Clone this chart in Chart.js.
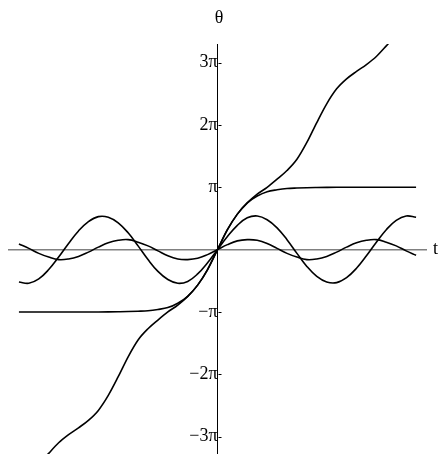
<!DOCTYPE html>
<html>
<head>
<meta charset="utf-8">
<title>Pendulum θ(t)</title>
<script src="https://cdn.jsdelivr.net/npm/chart.js@4.4.1/dist/chart.umd.min.js"></script>
<style>
  html, body { margin: 0; padding: 0; background: #fff; }
  #wrap { width: 438px; height: 454px; }
</style>
</head>
<body>
<div id="wrap"><canvas id="chart" width="438" height="454"></canvas></div>
<script>
/* ── Data (θ in multiples of π) ─────────────────────────── */
const tValues = [
  -10, -9.5, -9, -8.5, -8, -7.5, -7, -6.5, -6, -5.5, -5, -4.5, -4, -3.5, -3, -2.5, -2, -1.5, -1, -0.5,
  0, 0.5, 1, 1.5, 2, 2.5, 3, 3.5, 4, 4.5, 5, 5.5, 6, 6.5, 7, 7.5, 8, 8.5, 9, 9.5, 10
];

const thetaSmall = [
  0.09, 0.02, -0.06, -0.12, -0.16, -0.15, -0.11, -0.04, 0.04, 0.11, 0.15, 0.16, 0.12, 0.06, -0.02, -0.10, -0.15, -0.16, -0.14, -0.08,
  0, 0.08, 0.14, 0.16, 0.15, 0.10, 0.02, -0.06, -0.12, -0.16, -0.15, -0.11, -0.04, 0.04, 0.11, 0.15, 0.16, 0.12, 0.06, -0.02, -0.09
];

const thetaLarge = [
  -0.52, -0.54, -0.47, -0.32, -0.12, 0.10, 0.30, 0.45, 0.53, 0.52, 0.43, 0.27, 0.06, -0.16, -0.35, -0.48, -0.54, -0.51, -0.39, -0.21,
  0, 0.21, 0.39, 0.51, 0.54, 0.48, 0.35, 0.16, -0.06, -0.27, -0.43, -0.52, -0.53, -0.45, -0.30, -0.10, 0.12, 0.32, 0.47, 0.54, 0.52
];

const thetaSeparatrix = [
  -1, -1, -1, -1, -1, -1, -1, -1, -1, -0.999, -0.997, -0.994, -0.988, -0.98, -0.96, -0.93, -0.86, -0.75, -0.57, -0.32,
  0, 0.32, 0.57, 0.75, 0.86, 0.93, 0.96, 0.98, 0.988, 0.994, 0.997, 0.999, 1, 1, 1, 1, 1, 1, 1, 1, 1
];

const thetaRotating = [
  -3.90, -3.65, -3.45, -3.27, -3.10, -2.97, -2.86, -2.74, -2.58, -2.34, -2.04, -1.72, -1.45, -1.27, -1.13, -1.00, -0.89, -0.75, -0.57, -0.32,
  0, 0.32, 0.57, 0.75, 0.89, 1.00, 1.13, 1.27, 1.45, 1.72, 2.04, 2.34, 2.58, 2.74, 2.86, 2.97, 3.10, 3.27, 3.45, 3.65, 3.90
];

const thetaTicks = [-3, -2, -1, 1, 2, 3];
const thetaTickLabels = ['\u22123\u03c0', '\u22122\u03c0', '\u2212\u03c0', '\u03c0', '2\u03c0', '3\u03c0'];

const SERIF = "'Liberation Serif', 'DejaVu Serif', serif";

function toPoints(arr) {
  return tValues.map((t, i) => ({ x: t, y: arr[i] }));
}

function curve(arr, mode) {
  return {
    data: toPoints(arr),
    borderColor: '#000',
    borderWidth: 1.6,
    pointRadius: 0,
    fill: false,
    tension: 0.4,
    cubicInterpolationMode: mode
  };
}

/* ── Inward tick marks + axis names ─────────────────────── */
const axisDecor = {
  id: 'axisDecor',
  afterDraw(chart) {
    const { ctx, chartArea, scales: { x, y } } = chart;
    const x0 = Math.round(x.getPixelForValue(0)) + 0.5;
    ctx.save();
    ctx.strokeStyle = '#000';
    ctx.lineWidth = 1;
    thetaTicks.forEach(v => {
      const py = Math.round(y.getPixelForValue(v)) + 0.5;
      ctx.beginPath();
      ctx.moveTo(x0, py);
      ctx.lineTo(x0 + 3, py);
      ctx.stroke();
    });
    ctx.fillStyle = '#000';
    ctx.font = '18px ' + SERIF;
    ctx.textAlign = 'center';
    ctx.textBaseline = 'middle';
    ctx.fillText('\u03b8', x0 + 0.5, chartArea.top - 26);
    ctx.textAlign = 'left';
    ctx.fillText('t', chartArea.right + 7, y.getPixelForValue(0));
    ctx.restore();
  }
};

new Chart(document.getElementById('chart'), {
  type: 'line',
  data: {
    datasets: [
      curve(thetaSmall, 'default'),
      curve(thetaLarge, 'default'),
      curve(thetaSeparatrix, 'monotone'),
      curve(thetaRotating, 'monotone')
    ]
  },
  options: {
    responsive: false,
    animation: false,
    layout: { padding: { left: 9, right: 12, top: 44, bottom: 0 } },
    plugins: {
      legend: { display: false },
      tooltip: { enabled: false }
    },
    scales: {
      x: {
        type: 'linear',
        min: -10.5,
        max: 10.5,
        position: { y: 0 },
        grid: { display: false },
        border: { display: true, color: '#808080', width: 1.6 },
        ticks: { display: false }
      },
      y: {
        type: 'linear',
        min: -3.28,
        max: 3.30,
        position: { x: 0 },
        grid: { display: false, drawTicks: false },
        border: { display: true, color: '#000', width: 1 },
        afterBuildTicks: scale => {
          scale.ticks = thetaTicks.map(v => ({ value: v }));
        },
        afterFit: scale => {
          // labels sit inside the plot, so no extra room is needed
          scale.paddingTop = 0;
          scale.paddingBottom = 0;
        },
        ticks: {
          autoSkip: false,
          padding: 5,
          color: '#000',
          font: { family: SERIF, size: 18 },
          callback: value => thetaTickLabels[thetaTicks.indexOf(value)]
        }
      }
    }
  },
  plugins: [axisDecor]
});
</script>
</body>
</html>
